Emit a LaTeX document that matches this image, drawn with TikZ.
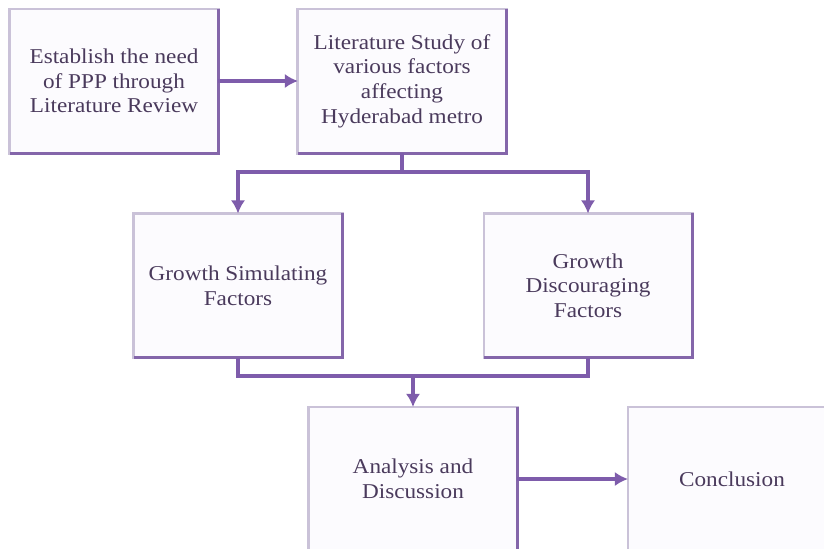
\documentclass[tikz,border=0pt]{standalone}
\usepackage{fontspec}
\setmainfont{Liberation Serif}[FakeStretch=1.1]
\usepackage{tikz}
\usetikzlibrary{arrows, arrows.meta}
\usetikzlibrary{positioning}
\definecolor{boxline}{HTML}{CAC2D8}
\definecolor{boxedge}{HTML}{8466AA}
\definecolor{boxfill}{HTML}{FCFBFE}
\definecolor{linkcol}{HTML}{7E5CAB}
\definecolor{textcol}{HTML}{4A3A5C}
\tikzstyle{stage} = [rectangle, minimum width=5.2cm, minimum height=3.6cm, align=center, draw=boxline, fill=boxfill, line width=2.1pt, outer sep=0pt, text=textcol, font=\fontsize{15}{17.5}\selectfont]
\tikzstyle{edge} = [draw=boxedge, line width=2.1pt]
\tikzstyle{link} = [draw=linkcol, line width=2.2pt]
\tikzstyle{arrow} = [link, -{Latex[length=0.33cm, width=0.36cm]}]

\begin{document}
\begin{tikzpicture}[x=0.025cm, y=-0.025cm]
                            \useasboundingbox (0,0) rectangle (824,548);
                            \clip (0,0) rectangle (824,548);
                            \node (est) [stage] at (114,81) {Establish the need\\of PPP through\\Literature Review};
                            \node (lit) [stage] at (402,81) {Literature Study of\\various factors\\affecting\\Hyderabad metro};
                            \node (grow) [stage] at (238,285.5) {Growth Simulating\\Factors};
                            \node (disc) [stage] at (588,285.5) {Growth\\Discouraging\\Factors};
                            \node (anal) [stage] at (413,479) {Analysis and\\Discussion};
                            \node (conc) [stage] at (732,479) {Conclusion};
                            \foreach \n in {est, lit, grow, disc, anal, conc}
                                \draw [edge] (\n.north east) -- (\n.south east) -- (\n.south west);
                            \coordinate (split) at (402,172);
                            \coordinate (merge) at (413,376);
                            \draw [arrow] (est) -- (lit);
                            \draw [link] (lit.south) -- (split);
                            \draw [arrow] (split) -| (grow.north);
                            \draw [arrow] (split) -| (disc.north);
                            \draw [link] (grow.south) |- (merge);
                            \draw [link] (disc.south) |- (merge);
                            \draw [arrow] (merge) -- (anal.north);
                            \draw [arrow] (anal) -- (conc);
                        \end{tikzpicture}
\end{document}
